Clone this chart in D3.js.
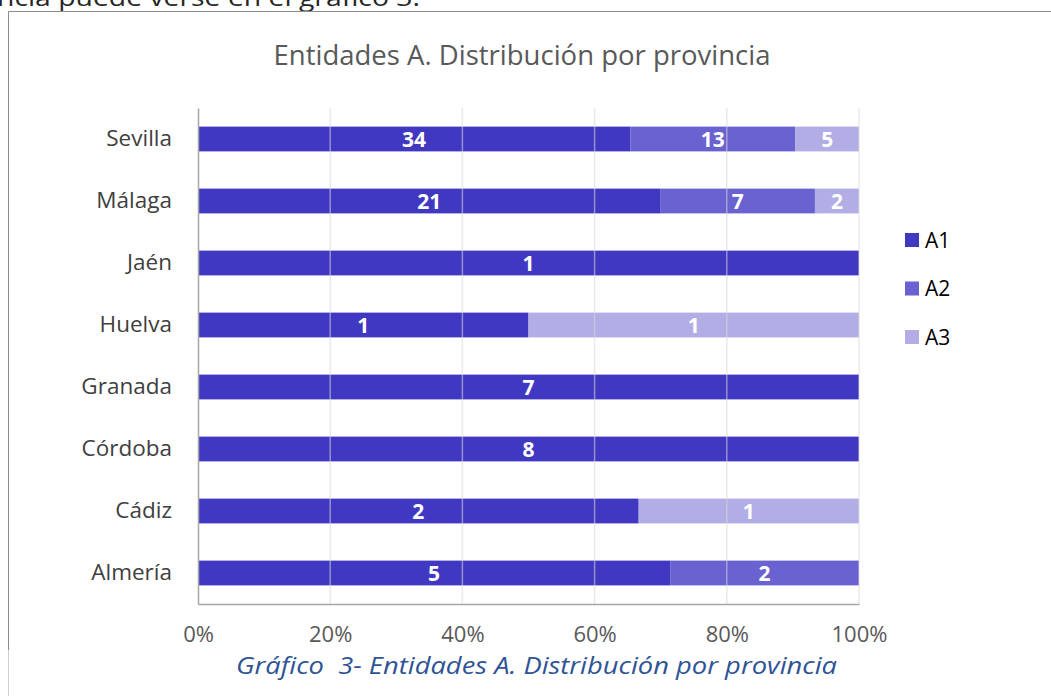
<!DOCTYPE html>
<html>
<head>
<meta charset="utf-8">
<script src="https://cdn.jsdelivr.net/npm/d3@7"></script>
<style>
  body { margin: 0; background: #fff; }
  svg { display: block; }
</style>
</head>
<body>
<svg id="chart" width="1051" height="696"></svg>
<script>
// data
var provincias = ["Sevilla", "Málaga", "Jaén", "Huelva", "Granada", "Córdoba", "Cádiz", "Almería"];
var serieA1 = [34, 21, 1, 1, 7, 8, 2, 5];
var serieA2 = [13, 7, 0, 0, 0, 0, 0, 2];
var serieA3 = [5, 2, 0, 1, 0, 0, 1, 0];
var series = ["A1", "A2", "A3"];
var ticks = [0, 0.2, 0.4, 0.6, 0.8, 1];
var colores = ["#4138c2", "#6962d0", "#b2ade4"];

var svg = d3.select("#chart");

// page text cut off at the top
svg.append("text")
	.attr("x", -3).attr("y", 6)
	.attr("textLength", 423)
	.attr("lengthAdjust", "spacingAndGlyphs")
	.style("font-family", "'Open Sans', sans-serif")
	.style("font-size", "23px")
	.attr("fill", "#262626")
	.text("ncia puede verse en el gráfico 3.");

// chart frame
svg.append("path")
	.attr("d", "M8.5,650 V11.5 H1051")
	.attr("fill", "none")
	.attr("stroke", "#8c8c8c");
svg.append("line")
	.attr("x1", 8.5).attr("x2", 8.5).attr("y1", 650).attr("y2", 696)
	.attr("stroke", "#d0d0d0");

var margin = {top: 108, left: 198},
	width = 661,
	height = 496;

var g = svg.append("g")
	.attr("transform", "translate(" + margin.left + "," + margin.top + ")");

var x = d3.scaleLinear().domain([0, 1]).range([0, width]);
var y = d3.scaleBand().domain(provincias).range([0, height]).paddingInner(0.6).paddingOuter(0.3);

var rows = provincias.map(function(p, i) {
	return {provincia: p, A1: serieA1[i], A2: serieA2[i], A3: serieA3[i]};
});
var stack = d3.stack().keys(series).offset(d3.stackOffsetExpand)(rows);

// bars
var capas = g.selectAll(".serie")
	.data(stack)
	.enter().append("g")
	.attr("fill", function(d, i) { return colores[i]; });

capas.selectAll("rect")
	.data(function(d) { return d.filter(function(s) { return s[1] - s[0] > 0; }); })
	.enter().append("rect")
	.attr("x", function(d) { return x(d[0]); })
	.attr("width", function(d) { return x(d[1]) - x(d[0]); })
	.attr("y", function(d) { return y(d.data.provincia); })
	.attr("height", y.bandwidth());

// gridlines (show faintly through bars)
g.selectAll(".grid")
	.data(ticks.slice(1))
	.enter().append("line")
	.attr("x1", function(d) { return x(d); })
	.attr("x2", function(d) { return x(d); })
	.attr("y1", 0).attr("y2", height)
	.attr("stroke", "#d9d9d9")
	.attr("stroke-width", 1.5)
	.attr("opacity", 0.55);

// data labels
capas.each(function(serie) {
	d3.select(this).selectAll("text")
		.data(serie.filter(function(s) { return s[1] - s[0] > 0; }))
		.enter().append("text")
		.attr("x", function(d) { return (x(d[0]) + x(d[1])) / 2; })
		.attr("y", function(d) { return y(d.data.provincia) + y.bandwidth() / 2; })
		.attr("dy", "0.36em")
		.attr("text-anchor", "middle")
		.attr("fill", "#fff")
		.style("font-family", "'Open Sans', sans-serif")
		.style("font-weight", "bold")
		.style("font-size", "21px")
		.text(function(d) { return d.data[serie.key]; });
});

// axes
var yAxis = g.append("g").call(d3.axisLeft(y).tickSize(0).tickPadding(26));
yAxis.select(".domain").attr("stroke", "#a6a6a6").attr("stroke-width", 1.5);
yAxis.selectAll("text")
	.style("font-family", "'Open Sans', sans-serif")
	.style("font-size", "22.5px")
	.attr("fill", "#404040");

var xAxis = g.append("g")
	.attr("transform", "translate(0," + height + ")")
	.call(d3.axisBottom(x).tickValues(ticks).tickFormat(d3.format(".0%")).tickSize(0).tickPadding(22));
xAxis.select(".domain").attr("stroke", "#a6a6a6").attr("stroke-width", 1.5);
xAxis.selectAll("text")
	.style("font-family", "'Open Sans', sans-serif")
	.style("font-size", "22px")
	.attr("fill", "#595959");

// title
svg.append("text")
	.attr("x", 522).attr("y", 65)
	.attr("text-anchor", "middle")
	.style("font-family", "'Open Sans', sans-serif")
	.style("font-size", "27.5px")
	.attr("fill", "#595959")
	.text("Entidades A. Distribución por provincia");

// legend
var leyenda = svg.append("g").attr("transform", "translate(905,240)");
var item = leyenda.selectAll("g")
	.data(series)
	.enter().append("g")
	.attr("transform", function(d, i) { return "translate(0," + i * 48.5 + ")"; });
item.append("rect")
	.attr("x", 0).attr("y", -7).attr("width", 14).attr("height", 14)
	.attr("fill", function(d, i) { return colores[i]; });
item.append("text")
	.attr("x", 20).attr("dy", "0.36em")
	.style("font-family", "'Open Sans', sans-serif")
	.style("font-size", "21px")
	.attr("fill", "#000")
	.text(function(d) { return d; });

// caption
svg.append("text")
	.attr("x", 236).attr("y", 674)
	.attr("textLength", 601)
	.attr("lengthAdjust", "spacingAndGlyphs")
	.style("font-family", "'Open Sans', sans-serif")
	.style("font-style", "italic")
	.style("font-size", "23px")
	.attr("fill", "#2f5496")
	.text("Gráfico\u00a0 3- Entidades A. Distribución por provincia");
</script>
</body>
</html>
